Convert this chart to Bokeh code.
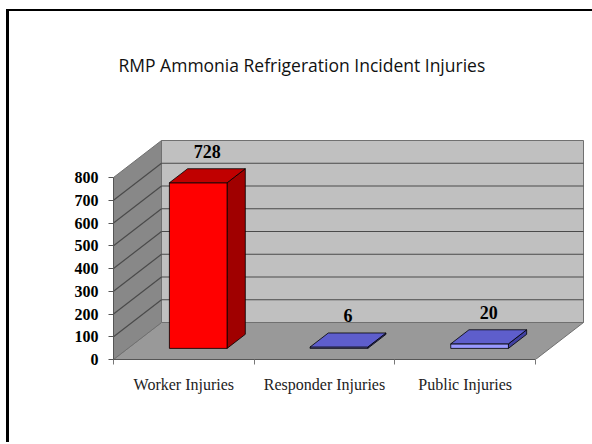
from bokeh.plotting import figure
from bokeh.models import Range1d, FixedTicker, Title, LinearAxis
from bokeh.embed import file_html
from bokeh.resources import INLINE
from bokeh.core.properties import value

# ---------------- data ----------------
title_text = "RMP Ammonia Refrigeration Incident Injuries"
categories = ["Worker Injuries", "Responder Injuries", "Public Injuries"]
injuries = [728, 6, 20]
y_ticks = [0, 100, 200, 300, 400, 500, 600, 700, 800]

# ---------------- styles / layout ----------------
front_colors = ["#FF0000", "#9999FF", "#9999FF"]
top_colors = ["#C00000", "#5E5ECC", "#5E5ECC"]
side_colors = ["#A00000", "#4040A0", "#4040A0"]

W, H = 586, 433
ML, MT = 104, 70
MB = H - 348
frame_w = W - ML
frame_h = H - MB - MT
PX_PER_CAT = 140.67
PX_PER_VAL = 182.0 / 800.0
DX = 48.0 / PX_PER_CAT             # depth offset in data units
DY = 37.0 / PX_PER_VAL
F1, F2 = 0.30, 0.68                # bar depth span (fraction of depth)
BW = 0.41                          # bar width (category units)
YMAX = y_ticks[-1]
NCAT = len(categories)

p = figure(width=W, height=H, output_backend="svg", toolbar_location=None,
           x_range=Range1d(0, frame_w / PX_PER_CAT),
           y_range=Range1d(0, frame_h / PX_PER_VAL),
           min_border_left=ML, min_border_bottom=MB, min_border_top=MT,
           min_border_right=0, x_axis_type=None, y_axis_type=None)
p.outline_line_color = None
p.xgrid.visible = False
p.ygrid.visible = False
p.background_fill_color = "white"
p.border_fill_color = "white"
p.margin = (9, 0, 0, 6)
p.styles = {"border-left": "3px solid black", "border-top": "2px solid black"}

p.title = Title(text=title_text, align="left", offset=5, standoff=10,
                text_font="Open Sans", text_font_size="17.5px",
                text_font_style="normal", text_color="#111111")

# ---------------- walls ----------------
wall_line = "#707070"
p.patch([0, NCAT, NCAT + DX, DX], [0, 0, DY, DY],
        fill_color="#999999", line_color=wall_line, line_width=1)
p.patch([0, DX, DX, 0], [0, DY, DY + YMAX, YMAX],
        fill_color="#888888", line_color=wall_line, line_width=1)
p.patch([DX, NCAT + DX, NCAT + DX, DX], [DY, DY, DY + YMAX, DY + YMAX],
        fill_color="#C0C0C0", line_color=wall_line, line_width=1)

grid_vals = y_ticks[1:-1]
p.segment(x0=[DX] * len(grid_vals), y0=[DY + v for v in grid_vals],
          x1=[NCAT + DX] * len(grid_vals), y1=[DY + v for v in grid_vals],
          line_color="#4a4a4a", line_width=1.2)
p.segment(x0=[0] * len(grid_vals), y0=grid_vals,
          x1=[DX] * len(grid_vals), y1=[DY + v for v in grid_vals],
          line_color="#4a4a4a", line_width=1.2)

# ---------------- bars ----------------
g = F2 - F1
fx, fy, txs, tys, sxs, sys_ = [], [], [], [], [], []
for i, v in enumerate(injuries):
    x0 = i + 0.5 - BW / 2 + F1 * DX
    x1 = x0 + BW
    y0 = F1 * DY
    y1 = v + F1 * DY
    fx.append([x0, x1, x1, x0]); fy.append([y0, y0, y1, y1])
    txs.append([x0, x1, x1 + g * DX, x0 + g * DX])
    tys.append([y1, y1, y1 + g * DY, y1 + g * DY])
    sxs.append([x1, x1 + g * DX, x1 + g * DX, x1])
    sys_.append([y0, y0 + g * DY, y1 + g * DY, y1])

p.patches(sxs, sys_, fill_color=side_colors, line_color="black", line_width=0.8)
p.patches(fx, fy, fill_color=front_colors, line_color="black", line_width=0.8)
p.patches(txs, tys, fill_color=top_colors, line_color="black", line_width=0.8)

p.text(x=[i + 0.5 + (F1 + F2) / 2 * DX for i in range(NCAT)],
       y=[v + F2 * DY for v in injuries],
       text=[str(v) for v in injuries], y_offset=-11,
       text_align="center", text_baseline="bottom",
       text_font=value("Liberation Serif"), text_font_size="18px",
       text_font_style="bold", text_color="black")

# ---------------- axes ----------------
yax = LinearAxis(ticker=FixedTicker(ticks=y_ticks), bounds=(0, YMAX))
yax.axis_line_color = "#555555"
yax.major_tick_out = 5
yax.major_tick_in = 0
yax.major_tick_line_color = "#555555"
yax.minor_tick_line_color = None
yax.major_label_standoff = 10
yax.major_label_text_font = "Liberation Serif"
yax.major_label_text_font_size = "16px"
yax.major_label_text_font_style = "bold"
yax.major_label_text_color = "black"
p.add_layout(yax, "left")

xax = LinearAxis(ticker=FixedTicker(ticks=[i + 0.5 for i in range(NCAT)],
                                    minor_ticks=list(range(NCAT + 1))),
                 bounds=(0, NCAT))
xax.major_label_overrides = {i + 0.5: c for i, c in enumerate(categories)}
xax.axis_line_color = "#555555"
xax.major_tick_line_color = None
xax.major_tick_out = 0
xax.major_tick_in = 0
xax.minor_tick_out = 5
xax.minor_tick_in = 0
xax.minor_tick_line_color = "#777777"
xax.major_label_standoff = 11
xax.major_label_text_font = "Liberation Serif"
xax.major_label_text_font_size = "16px"
xax.major_label_text_color = "#222222"
p.add_layout(xax, "below")

open("out.html", "w").write(file_html(p, INLINE))
